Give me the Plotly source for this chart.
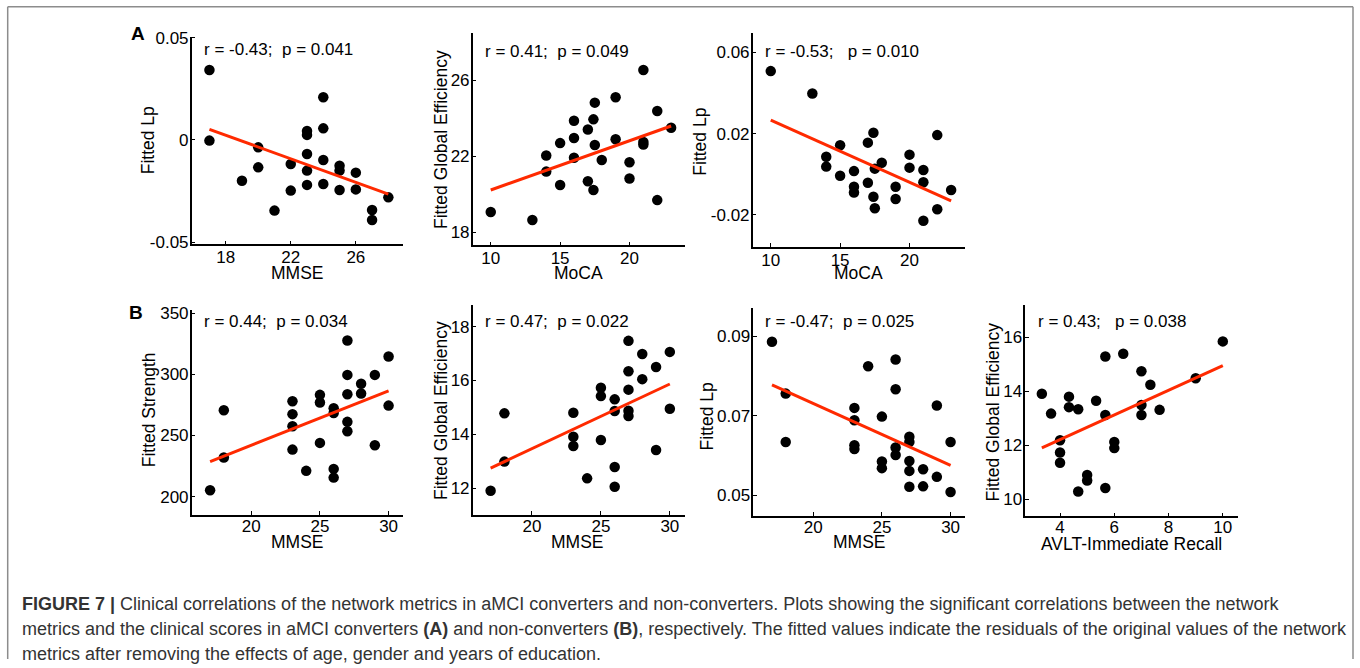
import plotly.graph_objects as go

# ---------------- data ----------------
a1_x = [17, 17, 19, 20, 20, 21, 22, 22, 23, 23, 23, 23, 23, 24, 24, 24, 24, 25, 25, 25, 26, 26, 27, 27, 28]
a1_y = [0.0343, -0.0003, -0.0200, -0.0036, -0.0134, -0.0346, -0.0118, -0.0248, 0.0044, 0.0025, -0.0069,
        -0.0150, -0.0220, 0.0209, 0.0057, -0.0098, -0.0216, -0.0126, -0.0150, -0.0245, -0.0160, -0.0242,
        -0.0343, -0.0392, -0.0281]
a1_fit_x = [17, 28]
a1_fit_y = [0.0052, -0.0265]

a2_x = [10, 13, 14, 14, 15, 15, 16, 16, 16, 17, 17, 17.4, 17.5, 17.5, 17.4, 18, 19, 19, 20, 20, 21, 21, 21, 22, 22, 23]
a2_y = [19.05, 18.63, 22.03, 21.18, 22.68, 20.47, 23.86, 22.95, 21.91, 23.40, 20.67, 23.93, 24.81, 22.58,
        20.21, 21.79, 25.09, 22.88, 21.67, 20.82, 26.53, 22.74, 22.60, 24.37, 19.68, 23.49]
a2_fit_x = [10, 23]
a2_fit_y = [20.21, 23.58]

a3_x = [10, 13, 14, 14, 15, 15, 16, 16, 16, 17, 17, 17.4, 17.5, 17.4, 17.5, 18, 19, 19, 20, 20, 21, 21, 21, 22, 22, 23]
a3_y = [0.0508, 0.0398, 0.0087, 0.0038, 0.0143, -0.0007, 0.0016, -0.0061, -0.0089, 0.0156, -0.0041, 0.0205,
        0.0028, -0.0110, -0.0167, 0.0057, -0.0061, -0.0121, 0.0097, 0.0033, 0.0021, -0.0039, -0.0228, 0.0193,
        -0.0172, -0.0077]
a3_fit_x = [10, 23]
a3_fit_y = [0.0267, -0.0131]

b1_x = [17, 18, 18, 23, 23, 23, 23, 24, 25, 25, 25, 26, 26, 26, 26, 27, 27, 27, 27, 27, 28, 28, 29, 29, 30, 30]
b1_y = [205.3, 270.7, 232.0, 278.1, 267.5, 257.6, 238.5, 221.1, 283.3, 277.0, 244.0, 272.4, 268.5, 222.7,
        215.6, 327.7, 299.6, 283.8, 261.2, 253.5, 292.3, 284.4, 299.6, 242.1, 314.6, 274.5]
b1_fit_x = [17, 30]
b1_fit_y = [228.7, 286.5]

b2_x = [17, 18, 18, 23, 23, 23, 24, 25, 25, 25, 26, 26, 26, 26, 27, 27, 27, 27, 27, 28, 28, 29, 29, 30, 30]
b2_y = [11.91, 14.78, 12.99, 14.80, 13.91, 13.57, 12.37, 15.73, 15.42, 13.79, 15.30, 14.87, 12.79, 12.06,
        17.47, 16.34, 15.66, 14.88, 14.68, 16.98, 16.05, 16.50, 13.42, 17.06, 14.95]
b2_fit_x = [17, 30]
b2_fit_y = [12.75, 15.87]

b3_x = [17, 18, 18, 23, 23, 23, 23, 24, 25, 25, 25, 26, 26, 26, 26, 27, 27, 27, 27, 27, 28, 28, 29, 29, 30, 30]
b3_y = [0.0887, 0.0756, 0.0634, 0.0720, 0.0689, 0.0626, 0.0616, 0.0825, 0.0698, 0.0585, 0.0568, 0.0842,
        0.0767, 0.0620, 0.0601, 0.0647, 0.0634, 0.0586, 0.0561, 0.0521, 0.0565, 0.0522, 0.0726, 0.0546,
        0.0634, 0.0508]
b3_fit_x = [17, 30]
b3_fit_y = [0.0778, 0.0575]

b4_x = [3.33, 3.67, 4, 4, 4, 4.33, 4.33, 4.67, 4.67, 5, 5, 5.33, 5.67, 5.67, 5.67, 6, 6, 6.33, 7, 7, 7,
        7.33, 7.67, 9, 10]
b4_y = [13.91, 13.17, 12.18, 11.73, 11.35, 13.80, 13.41, 13.33, 10.28, 10.89, 10.69, 13.65, 15.29, 13.12,
        10.41, 12.12, 11.89, 15.39, 14.74, 13.49, 13.12, 14.24, 13.31, 14.48, 15.85]
b4_fit_x = [3.33, 10]
b4_fit_y = [11.90, 14.95]

stats = ["r = -0.43;\u00a0 p = 0.041", "r = 0.41;\u00a0 p = 0.049", "r = -0.53;\u00a0\u00a0 p = 0.010",
         "r = 0.44;\u00a0 p = 0.034", "r = 0.47;\u00a0 p = 0.022", "r = -0.47;\u00a0 p = 0.025",
         "r = 0.43;\u00a0\u00a0 p = 0.038"]
x_titles = ["MMSE", "MoCA", "MoCA", "MMSE", "MMSE", "MMSE", "AVLT-Immediate Recall"]
y_titles = ["Fitted Lp", "Fitted Global Efficiency", "Fitted Lp", "Fitted Strength",
            "Fitted Global Efficiency", "Fitted Lp", "Fitted Global Efficiency"]

x_tickvals = [[18, 22, 26], [10, 15, 20], [10, 15, 20], [20, 25, 30], [20, 25, 30], [20, 25, 30], [4, 6, 8, 10]]
x_ticktext = [["18", "22", "26"], ["10", "15", "20"], ["10", "15", "20"], ["20", "25", "30"],
              ["20", "25", "30"], ["20", "25", "30"], ["4", "6", "8", "10"]]
y_tickvals = [[-0.05, 0, 0.05], [18, 22, 26], [-0.02, 0.02, 0.06], [200, 250, 300, 350],
              [12, 14, 16, 18], [0.05, 0.07, 0.09], [10, 12, 14, 16]]
y_ticktext = [["-0.05", "0", "0.05"], ["18", "22", "26"], ["-0.02", "0.02", "0.06"],
              ["200", "250", "300", "350"], ["12", "14", "16", "18"], ["0.05", "0.07", "0.09"],
              ["10", "12", "14", "16"]]

panel_letters = ["A", "B"]
caption_lines = [
    "<b>FIGURE 7 |</b> Clinical correlations of the network metrics in aMCI converters and non-converters. "
    "Plots showing the significant correlations between the network",
    "metrics and the clinical scores in aMCI converters <b>(A)</b> and non-converters <b>(B)</b>, respectively. "
    "The fitted values indicate the residuals of the original values of the network",
    "metrics after removing the effects of age, gender and years of education.",
]

xs = [a1_x, a2_x, a3_x, b1_x, b2_x, b3_x, b4_x]
ys = [a1_y, a2_y, a3_y, b1_y, b2_y, b3_y, b4_y]
fxs = [a1_fit_x, a2_fit_x, a3_fit_x, b1_fit_x, b2_fit_x, b3_fit_x, b4_fit_x]
fys = [a1_fit_y, a2_fit_y, a3_fit_y, b1_fit_y, b2_fit_y, b3_fit_y, b4_fit_y]

# ---------------- layout geometry (pixels) ----------------
W, H = 1360, 668
FONT = "Liberation Sans, Arial, Helvetica, sans-serif"

# axis boxes: left, right, top, bottom
boxes = [
    (191.7, 403, 36.7, 244.3),
    (472.7, 685, 33.3, 245.3),
    (752.7, 965, 33.3, 246.7),
    (191.7, 403, 310, 515),
    (472.7, 685, 305, 515),
    (753.3, 965, 308, 515.7),
    (1025.3, 1238, 305, 516.3),
]
x_ranges = [(15.91, 28.9), (8.7, 24.0), (8.7, 24.0), (15.66, 31.05), (15.7, 31.1), (15.64, 31.05), (2.72, 10.56)]
y_ranges = [(-0.0511, 0.0506), (17.3, 28.46), (-0.0356, 0.0694), (185, 352.7), (11.01, 18.8),
            (0.0448, 0.0972), (9.36, 17.2)]
x_standoff = [-3, -3, -3, -5, -5, -5, -5]
stat_pos = [(201.7, 50), (482.7, 51.7), (762.7, 51.7), (201.7, 321.7), (482.7, 321.7), (763.3, 321.7),
            (1036, 321.7)]
xt_pos = [(297, 272.5), (578.3, 272.5), (858.3, 272.5), (297.3, 542), (577.7, 542), (859, 542),
          (1131.3, 543.5)]
yt_pos = [(148.3, 140), (441.7, 139.3), (700, 141.7), (149.3, 410), (441.7, 410.3), (706.7, 416.7),
          (993.3, 412.3)]
letter_pos = [(138, 33.5), (136, 312.5)]
caption_pos = [(20, 603.5), (20, 628.5), (20, 653.5)]


def px(v):
    return v / W


def py(v):
    return 1 - v / H


fig = go.Figure()
layout = dict(
    template="none",
    width=W, height=H, autosize=False, margin=dict(l=0, r=0, t=0, b=0, pad=0, autoexpand=False),
    paper_bgcolor="white", plot_bgcolor="white", showlegend=False,
    font=dict(family=FONT, color="black", size=17),
)
annotations = []
shapes = []

for i in range(7):
    n = i + 1
    sfx = "" if n == 1 else str(n)
    l, r, t, b = boxes[i]
    fig.add_trace(go.Scatter(x=xs[i], y=ys[i], mode="markers", xaxis="x" + sfx, yaxis="y" + sfx,
                             marker=dict(color="black", size=10.5, line=dict(width=0)),
                             hoverinfo="x+y"))
    fig.add_trace(go.Scatter(x=fxs[i], y=fys[i], mode="lines", xaxis="x" + sfx, yaxis="y" + sfx,
                             line=dict(color="#ff2a00", width=3), hoverinfo="skip"))
    common = dict(showgrid=False, zeroline=False, showline=True, linecolor="black", linewidth=1.5,
                  ticks="inside", ticklen=4, tickwidth=1, tickcolor="black", mirror=False, automargin=False,
                  tickfont=dict(family=FONT, size=17, color="black"), tickmode="array")
    layout["xaxis" + sfx] = dict(domain=[px(l), px(r)], anchor="y" + sfx, range=list(x_ranges[i]),
                                 tickvals=x_tickvals[i], ticktext=x_ticktext[i],
                                 ticklabelstandoff=x_standoff[i], **common)
    layout["yaxis" + sfx] = dict(domain=[py(b), py(t)], anchor="x" + sfx, range=list(y_ranges[i]),
                                 tickvals=y_tickvals[i], ticktext=y_ticktext[i], ticklabelstandoff=-2,
                                 **common)
    annotations.append(dict(text=stats[i], x=px(stat_pos[i][0]), y=py(stat_pos[i][1]), xref="paper",
                            yref="paper", xanchor="left", yanchor="middle", showarrow=False,
                            font=dict(size=17, family=FONT, color="black")))
    annotations.append(dict(text=x_titles[i], x=px(xt_pos[i][0]), y=py(xt_pos[i][1]), xref="paper",
                            yref="paper", xanchor="center", yanchor="middle", showarrow=False,
                            font=dict(size=17.5, family=FONT, color="black")))
    annotations.append(dict(text=y_titles[i], x=px(yt_pos[i][0]), y=py(yt_pos[i][1]), xref="paper",
                            yref="paper", xanchor="center", yanchor="middle", showarrow=False,
                            textangle=-90, font=dict(size=17.5, family=FONT, color="black")))

for k, letter in enumerate(panel_letters):
    annotations.append(dict(text="<b>" + letter + "</b>", x=px(letter_pos[k][0]), y=py(letter_pos[k][1]),
                            xref="paper", yref="paper", xanchor="center", yanchor="middle",
                            showarrow=False, font=dict(size=19, family=FONT, color="black")))

for k, line in enumerate(caption_lines):
    annotations.append(dict(text=line, x=px(caption_pos[k][0]), y=py(caption_pos[k][1]), xref="paper",
                            yref="paper", xanchor="left", yanchor="middle", showarrow=False,
                            font=dict(size=18, family=FONT, color="#333333")))

# outer frame (left, top, right edges)
frame_col = "#8c8c8c"
for (x0, y0, x1, y1) in [(7.7, 6.7, 7.7, 659), (7.7, 6.7, 1353, 6.7), (1353, 6.7, 1353, 659)]:
    shapes.append(dict(type="line", xref="paper", yref="paper", x0=px(x0), y0=py(y0), x1=px(x1), y1=py(y1),
                       line=dict(color=frame_col, width=1.5)))

layout["annotations"] = annotations
layout["shapes"] = shapes
fig.update_layout(**layout)

fig.write_html(
    "out.html", config={"displayModeBar": False},
    post_script=("document.body.style.margin='0';document.body.style.overflow='hidden';"
                 "var gd=document.getElementById('{plot_id}');gd.style.position='fixed';"
                 "gd.style.left='0px';gd.style.top='0px';"),
)
